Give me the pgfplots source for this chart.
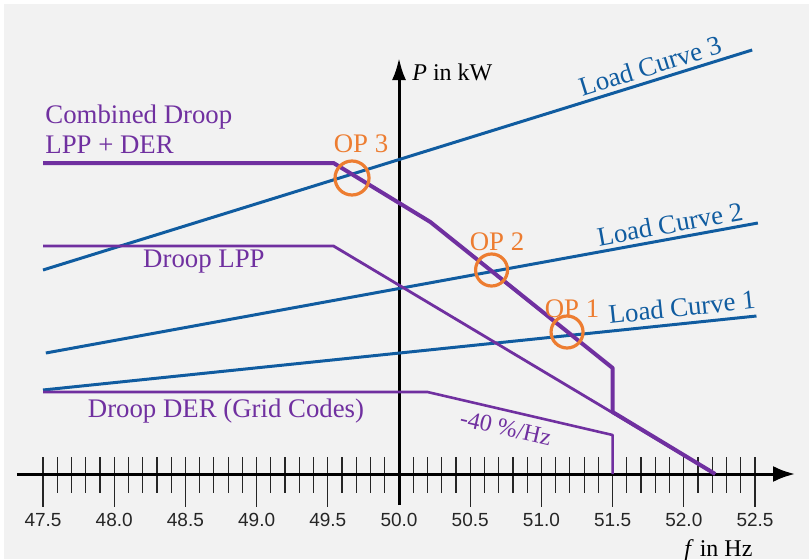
\documentclass[border=0pt]{standalone}
\usepackage{fontspec}
\setmainfont{Liberation Serif}
\newfontfamily\arial{Liberation Sans}
\usepackage{pgfplots}
\pgfplotsset{compat=1.18}
\usetikzlibrary{arrows.meta}
\definecolor{bg}{HTML}{F2F2F2}
\definecolor{lcblue}{RGB}{16,92,160}
\definecolor{droop}{HTML}{7030A0}
\definecolor{oporange}{HTML}{ED7D31}
\begin{document}
\begin{tikzpicture}[every node/.style={inner sep=0pt}]
\begin{axis}[
  width=404.5pt, height=279.5pt, scale only axis,
  xmin=47.198, xmax=52.879, ymin=-85, ymax=474,
  axis line style={draw=none}, ticks=none,
  axis background/.style={fill=white},
  clip=false,
  every axis plot/.append style={line join=round},
]
\fill[bg] (axis cs:47.226,-85) rectangle (axis cs:52.879,470);
% minor ticks
\pgfplotsinvokeforeach{47.6,47.7,...,52.45}{
  \draw[line width=0.6pt, black!85] (axis cs:#1,17) -- (axis cs:#1,-19);
}
% major ticks
\pgfplotsinvokeforeach{47.5,48.0,48.5,49.0,49.5,50.5,51.0,51.5,52.0,52.5}{
  \draw[line width=0.6pt, black!85] (axis cs:#1,17) -- (axis cs:#1,-33);
}
% tick labels
\pgfplotsinvokeforeach{47.5,48.0,48.5,49.0,49.5,50.0,50.5,51.0,51.5,52.0,52.5}{
  \node[font=\arial\fontsize{9.5}{11}\selectfont, text=black!85] at (axis cs:#1,-46) {#1};
}
% axes
\draw[line width=1.5pt, -{Latex[length=11pt,width=8pt]}] (axis cs:47.317,0) -- (axis cs:52.781,0);
\draw[line width=1.5pt, -{Latex[length=11pt,width=7pt]}] (axis cs:50,-31) -- (axis cs:50,416);

% load curves
\addplot[lcblue, line width=1.5pt] coordinates {(47.5,204) (52.48,424)};
\addplot[lcblue, line width=1.5pt] coordinates {(47.52,121) (52.52,251)};
\addplot[lcblue, line width=1.5pt] coordinates {(47.5,84) (52.51,158)};
% droop curves
\addplot[droop, line width=1.4pt] coordinates {(47.5,228) (49.54,228) (52.22,0)};
\addplot[droop, line width=1.3pt] coordinates {(47.5,82) (50.2,82) (51.5,39) (51.5,0)};
\addplot[droop, line width=2pt] coordinates {(47.5,311) (49.54,311) (50.22,252) (51.5,106) (51.5,62) (52.22,0)};
% operating points
\addplot[only marks, mark=o, mark size=8.5pt, oporange, mark options={line width=1.6pt}] coordinates {(49.67,296)};
\addplot[only marks, mark=o, mark size=8pt, oporange, mark options={line width=1.6pt}] coordinates {(50.65,204) (51.18,142)};

% labels
\node[droop, anchor=base west, font=\fontsize{13.4}{16}\selectfont] at (axis cs:47.514,351) {Combined Droop};
\node[droop, anchor=base west, font=\fontsize{13.4}{16}\selectfont] at (axis cs:47.514,321) {LPP + DER};
\node[droop, anchor=base, font=\fontsize{13.4}{16}\selectfont] at (axis cs:48.63,207) {Droop LPP};
\node[droop, anchor=base, font=\fontsize{13.4}{16}\selectfont] at (axis cs:48.785,57) {Droop DER (Grid Codes)};
\node[droop, rotate=-13, font=\fontsize{12}{14}\selectfont] at (axis cs:50.75,46) {-40 \%/Hz};
\node[oporange, anchor=base, font=\fontsize{13.4}{16}\selectfont] at (axis cs:49.733,322) {OP 3};
\node[oporange, anchor=base, font=\fontsize{13.4}{16}\selectfont] at (axis cs:50.688,224) {OP 2};
\node[oporange, anchor=base, font=\fontsize{13.4}{16}\selectfont] at (axis cs:51.215,157) {OP 1};
\node[lcblue, rotate=17.3, font=\fontsize{13.4}{16}\selectfont] at (axis cs:51.763,408) {Load Curve 3};
\node[lcblue, rotate=10.3, font=\fontsize{13.4}{16}\selectfont] at (axis cs:51.903,250) {Load Curve 2};
\node[lcblue, rotate=5.9, font=\fontsize{13.4}{16}\selectfont] at (axis cs:51.987,167) {Load Curve 1};
\node[anchor=base west, font=\fontsize{12}{14}\selectfont] at (axis cs:50.091,394) {\textit{P} in kW};
\node[anchor=base west, font=\fontsize{12}{14}\selectfont] at (axis cs:52.001,-82) {\textit{f} in Hz};
\end{axis}
\pgfresetboundingbox
\path[use as bounding box] (current axis.south west) rectangle (current axis.north east);
\end{tikzpicture}
\end{document}
